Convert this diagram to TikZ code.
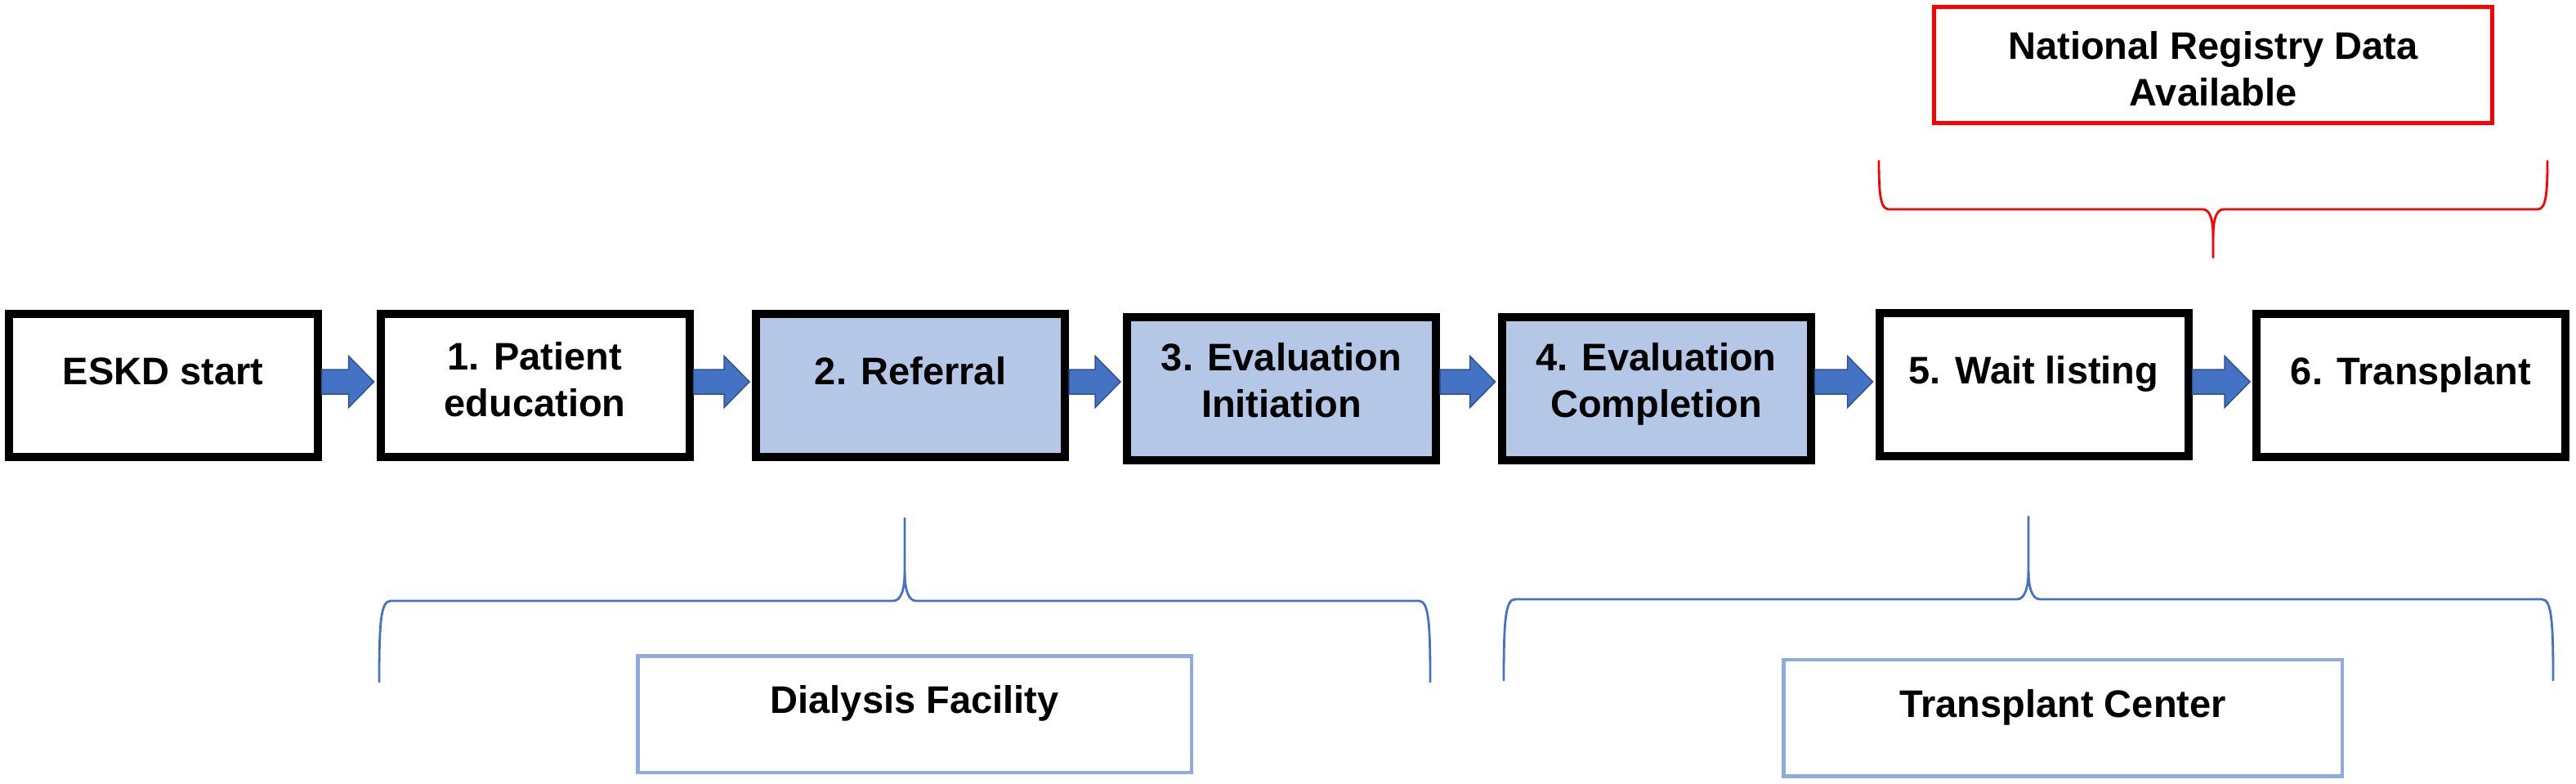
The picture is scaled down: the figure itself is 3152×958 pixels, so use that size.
\documentclass[tikz,border=0pt]{standalone}
\usepackage{fontspec}
\setmainfont{Liberation Sans}
\usetikzlibrary{calc}
\definecolor{boxblue}{HTML}{B4C7E7}
\definecolor{arrowblue}{HTML}{4472C4}
\definecolor{arrowedge}{HTML}{2F528F}
\definecolor{bracecol}{HTML}{4472C4}
\definecolor{lightedge}{HTML}{8FAADC}
\definecolor{regred}{HTML}{FF0000}
\newcommand\blockarrow[2]{%
  \draw[blockarr] let \p1=(#1.east), \p2=(#2.west) in
    (\x1,-226pt) -- (\x2-17pt,-226pt) -- (\x2-17pt,-217.75pt) --
    (\x2-1.5pt,-233.5pt) -- (\x2-17pt,-249.25pt) -- (\x2-17pt,-241pt) --
    (\x1,-241pt) -- cycle;}
\newcommand\twolines[2]{\begin{tabular}[t]{@{}c@{}}#1\\#2\end{tabular}}
\begin{document}
\begin{tikzpicture}[x=0.5pt,y=-0.5pt,
  stepbox/.style={draw=black, line width=5pt, fill=white, rectangle,
    minimum width=189pt, minimum height=87.5pt, inner sep=0pt},
  bluebox/.style={stepbox, fill=boxblue},
  lbl/.style={anchor=base, inner sep=0pt,
    font=\fontsize{23.5pt}{28.5pt}\selectfont\bfseries},
  blockarr/.style={fill=arrowblue, draw=arrowedge, line width=0.75pt},
  brace/.style={line width=1.4pt, line join=round, line cap=round},
  regbox/.style={draw=regred, line width=2.5pt, fill=white, rectangle,
    minimum width=341.5pt, minimum height=71pt, inner sep=0pt},
  sitebox/.style={draw=lightedge, line width=2.25pt, fill=white, rectangle,
    minimum height=71.25pt, inner sep=0pt}]
\useasboundingbox (0,0) rectangle (3152,958);

% process boxes
\node[stepbox]  (b0) at (199.5,471.5) {};
\node[stepbox]  (b1) at (654.5,471.5) {};
\node[bluebox]  (b2) at (1114,471) {};
\node[bluebox]  (b3) at (1568,475) {};
\node[bluebox]  (b4) at (2026.5,475) {};
\node[stepbox]  (b5) at (2488.5,470.5) {};
\node[stepbox]  (b6) at (2950,471) {};

\node[lbl] (t0) at (199.5,470) {ESKD start};
\node[lbl] (t1) at (654.5,452) {\twolines{1. Patient}{education}};
\node[lbl] (t2) at (1114,470) {2. Referral};
\node[lbl] (t3) at (1568,453) {\twolines{3. Evaluation}{Initiation}};
\node[lbl] (t4) at (2026.5,453) {\twolines{4. Evaluation}{Completion}};
\node[lbl] (t5) at (2488.5,469) {5. Wait listing};
\node[lbl] (t6) at (2950,470) {6. Transplant};

% block arrows
\blockarrow{b0}{b1}
\blockarrow{b1}{b2}
\blockarrow{b2}{b3}
\blockarrow{b3}{b4}
\blockarrow{b4}{b5}
\blockarrow{b5}{b6}

% national registry box and red brace
\node[regbox] (reg) at (2708,79.5) {};
\node[lbl] (treg) at (2708,72) {\twolines{National Registry Data}{Available}};
\coordinate (regtip) at (2708,315);
\draw[brace, draw=regred]
  (2299,197) .. controls (2299,238) and (2301,256) .. (2311,256) -- (2695,256)
  .. controls (2704,256) and (2708,268) .. (2708,290) -- (regtip);
\draw[brace, draw=regred]
  (3117,197) .. controls (3117,238) and (3115,256) .. (3105,256) -- (2721,256)
  .. controls (2712,256) and (2708,268) .. (2708,290);

% dialysis facility brace and box
\coordinate (dtip) at (1107,634);
\draw[brace, draw=bracecol]
  (464,834) .. controls (464,760) and (466,735) .. (478,735) -- (1093,735)
  .. controls (1102,735) and (1107,722) .. (1107,700) -- (dtip);
\draw[brace, draw=bracecol]
  (1750,834) .. controls (1750,760) and (1748,735) .. (1736,735) -- (1121,735)
  .. controls (1112,735) and (1107,722) .. (1107,700);
\node[sitebox, minimum width=338.75pt] (dial) at (1119,873.5) {};
\node[lbl] (tdial) at (1119,872) {Dialysis Facility};

% transplant center brace and box
\coordinate (ttip) at (2482,632);
\draw[brace, draw=bracecol]
  (1840,832) .. controls (1840,758) and (1842,733) .. (1854,733) -- (2468,733)
  .. controls (2477,733) and (2482,720) .. (2482,698) -- (ttip);
\draw[brace, draw=bracecol]
  (3124,832) .. controls (3124,758) and (3122,733) .. (3110,733) -- (2496,733)
  .. controls (2487,733) and (2482,720) .. (2482,698);
\node[sitebox, minimum width=341.75pt] (tc) at (2524,878) {};
\node[lbl] (ttc) at (2524,877) {Transplant Center};
\end{tikzpicture}
\end{document}
